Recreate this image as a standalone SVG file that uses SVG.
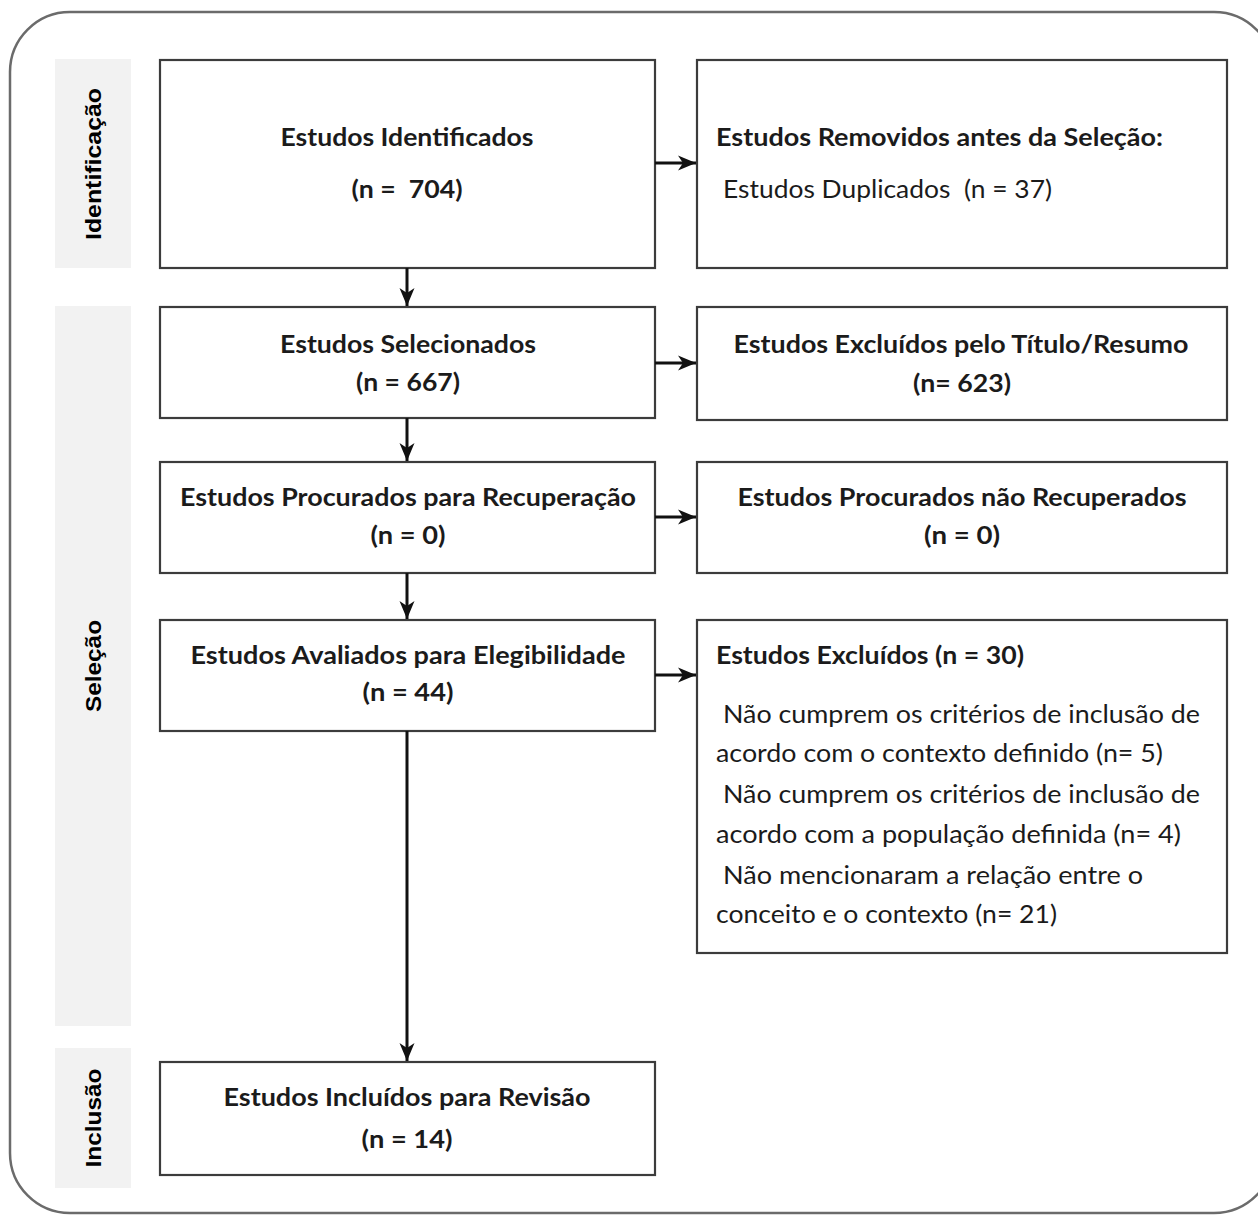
<svg xmlns="http://www.w3.org/2000/svg" width="1258" height="1215" viewBox="0 0 1258 1215">
<defs>
<style>
.frame{fill:#fff;stroke:#6b6b6b;stroke-width:2.5}
.band{fill:#f2f2f2;stroke:none}
.box{fill:#fff;stroke:#3c3c3c;stroke-width:2.2}
.t{font-family:Lato,"Noto Sans","Liberation Sans",sans-serif;font-size:25px;fill:#1b1b1b;white-space:pre}
.b{font-weight:bold}
.c{text-anchor:middle}
.side{font-family:"Liberation Sans",Arial,sans-serif;font-size:22px;font-weight:bold;fill:#000;text-anchor:middle}
.conn line{stroke:#111;stroke-width:3;fill:none}
</style>
<marker id="ah" markerUnits="userSpaceOnUse" markerWidth="20" markerHeight="18" refX="18" refY="9" orient="auto">
<path d="M0,1.5 L18,9 L0,16.5 L5,9 z" fill="#111"/>
</marker>
</defs>
<rect width="1258" height="1215" fill="#fff"/>
<rect class="frame" x="10" y="12" width="1264" height="1201" rx="60" ry="60"/>

<g id="phase-identificacao">
<rect class="band" x="55" y="59" width="76" height="209"/>
<text class="side" transform="translate(101,164) rotate(-90)" textLength="152" lengthAdjust="spacingAndGlyphs">Identificação</text>
</g>
<g id="phase-selecao">
<rect class="band" x="55" y="306" width="76" height="720"/>
<text class="side" transform="translate(101,666) rotate(-90)" textLength="92" lengthAdjust="spacingAndGlyphs">Seleção</text>
</g>
<g id="phase-inclusao">
<rect class="band" x="55" y="1048" width="76" height="140"/>
<text class="side" transform="translate(101,1118) rotate(-90)" textLength="99" lengthAdjust="spacingAndGlyphs">Inclusão</text>
</g>

<g id="identificados">
<rect class="box" x="160" y="60" width="495" height="208"/>
<text class="t b c" x="407" y="146" textLength="253" lengthAdjust="spacingAndGlyphs">Estudos Identificados</text>
<text class="t b c" x="407" y="198" textLength="111" lengthAdjust="spacingAndGlyphs" xml:space="preserve">(n =  704)</text>
</g>
<g id="removidos">
<rect class="box" x="697" y="60" width="530" height="208"/>
<text class="t b" x="716" y="146" textLength="447" lengthAdjust="spacingAndGlyphs">Estudos Removidos antes da Seleção:</text>
<text class="t" x="723" y="198" textLength="329" lengthAdjust="spacingAndGlyphs" xml:space="preserve">Estudos Duplicados  (n = 37)</text>
</g>

<g id="selecionados">
<rect class="box" x="160" y="307" width="495" height="111"/>
<text class="t b c" x="408" y="353" textLength="256" lengthAdjust="spacingAndGlyphs">Estudos Selecionados</text>
<text class="t b c" x="408" y="391" textLength="104" lengthAdjust="spacingAndGlyphs">(n = 667)</text>
</g>
<g id="excluidos-titulo">
<rect class="box" x="697" y="307" width="530" height="113"/>
<text class="t b c" x="961" y="353" textLength="455" lengthAdjust="spacingAndGlyphs">Estudos Excluídos pelo Título/Resumo</text>
<text class="t b c" x="962" y="392" textLength="98" lengthAdjust="spacingAndGlyphs">(n= 623)</text>
</g>

<g id="procurados">
<rect class="box" x="160" y="462" width="495" height="111"/>
<text class="t b c" x="408" y="506" textLength="456" lengthAdjust="spacingAndGlyphs">Estudos Procurados para Recuperação</text>
<text class="t b c" x="408" y="544" textLength="75" lengthAdjust="spacingAndGlyphs">(n = 0)</text>
</g>
<g id="nao-recuperados">
<rect class="box" x="697" y="462" width="530" height="111"/>
<text class="t b c" x="962" y="506" textLength="449" lengthAdjust="spacingAndGlyphs">Estudos Procurados não Recuperados</text>
<text class="t b c" x="962" y="544" textLength="76" lengthAdjust="spacingAndGlyphs">(n = 0)</text>
</g>

<g id="avaliados">
<rect class="box" x="160" y="620" width="495" height="111"/>
<text class="t b c" x="408" y="664" textLength="435" lengthAdjust="spacingAndGlyphs">Estudos Avaliados para Elegibilidade</text>
<text class="t b c" x="408" y="701" textLength="91" lengthAdjust="spacingAndGlyphs">(n = 44)</text>
</g>
<g id="excluidos">
<rect class="box" x="697" y="620" width="530" height="333"/>
<text class="t b" x="716" y="664" textLength="308" lengthAdjust="spacingAndGlyphs">Estudos Excluídos (n = 30)</text>
<text class="t" x="723" y="723" textLength="477" lengthAdjust="spacingAndGlyphs">Não cumprem os critérios de inclusão de</text>
<text class="t" x="716" y="762" textLength="447" lengthAdjust="spacingAndGlyphs">acordo com o contexto definido (n= 5)</text>
<text class="t" x="723" y="803" textLength="477" lengthAdjust="spacingAndGlyphs">Não cumprem os critérios de inclusão de</text>
<text class="t" x="716" y="843" textLength="465" lengthAdjust="spacingAndGlyphs">acordo com a população definida (n= 4)</text>
<text class="t" x="723" y="884" textLength="420" lengthAdjust="spacingAndGlyphs">Não mencionaram a relação entre o</text>
<text class="t" x="716" y="923" textLength="341" lengthAdjust="spacingAndGlyphs">conceito e o contexto (n= 21)</text>
</g>

<g id="incluidos">
<rect class="box" x="160" y="1062" width="495" height="113"/>
<text class="t b c" x="407" y="1106" textLength="367" lengthAdjust="spacingAndGlyphs">Estudos Incluídos para Revisão</text>
<text class="t b c" x="407" y="1148" textLength="91" lengthAdjust="spacingAndGlyphs">(n = 14)</text>
</g>

<g id="connectors" class="conn">
<line x1="407" y1="268" x2="407" y2="306" marker-end="url(#ah)"/>
<line x1="407" y1="418" x2="407" y2="461" marker-end="url(#ah)"/>
<line x1="407" y1="573" x2="407" y2="619" marker-end="url(#ah)"/>
<line x1="407" y1="731" x2="407" y2="1061" marker-end="url(#ah)"/>
<line x1="655" y1="163" x2="696" y2="163" marker-end="url(#ah)"/>
<line x1="655" y1="363" x2="696" y2="363" marker-end="url(#ah)"/>
<line x1="655" y1="517" x2="696" y2="517" marker-end="url(#ah)"/>
<line x1="655" y1="675" x2="696" y2="675" marker-end="url(#ah)"/>
</g>
</svg>
